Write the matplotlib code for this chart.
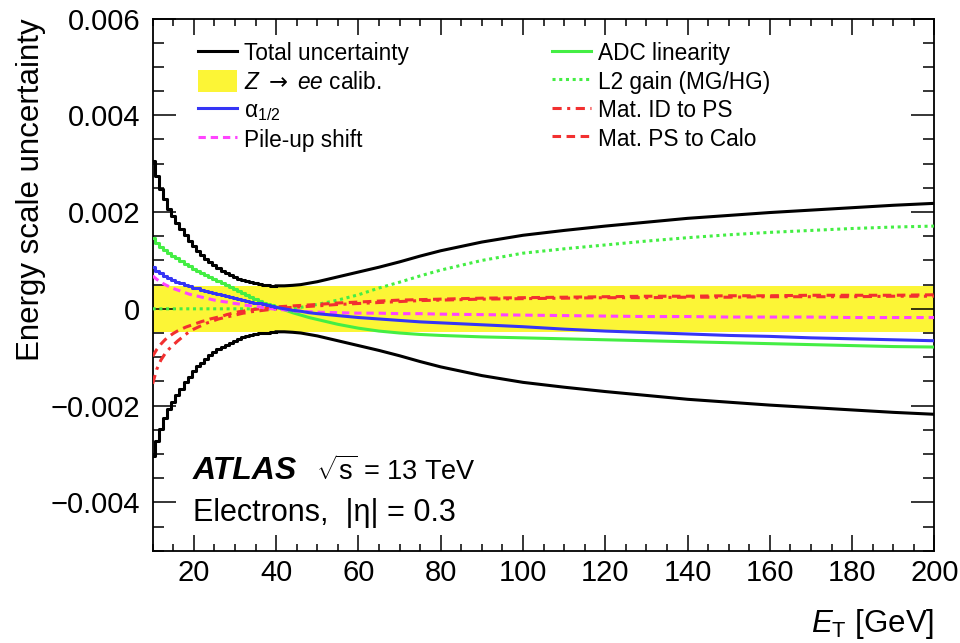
import matplotlib
matplotlib.use("Agg")
import matplotlib.pyplot as plt
from matplotlib.ticker import MultipleLocator, FuncFormatter
from matplotlib.patches import Patch
from matplotlib.lines import Line2D

plt.rcParams['font.family'] = ['Liberation Sans', 'DejaVu Sans']
plt.rcParams['mathtext.fontset'] = 'custom'
plt.rcParams['mathtext.rm'] = 'Liberation Sans'
plt.rcParams['mathtext.it'] = 'Liberation Sans:italic'
plt.rcParams['mathtext.bf'] = 'Liberation Sans:bold'
plt.rcParams['mathtext.sf'] = 'DejaVu Sans'

# ---------------- data (values in units of 1e-3) ----------------
et = [10, 11, 12, 13, 14, 15, 16, 17, 18, 19, 20, 21, 22, 23, 24, 25, 26, 27, 28, 29,
      30, 31, 32, 33, 34, 35, 36, 37, 38, 39, 40,
      42, 44, 46, 48, 50,
      55, 60, 65, 70, 75, 80,
      90, 100, 110, 120, 130, 140, 150, 160, 170, 180, 190, 200]

total_unc = [3.05, 2.74, 2.48, 2.26, 2.07, 1.92, 1.78, 1.65, 1.52, 1.40, 1.29, 1.19, 1.11, 1.03, 0.96,
             0.90, 0.84, 0.79, 0.74, 0.70, 0.66, 0.62, 0.59, 0.57, 0.55, 0.53, 0.51, 0.50, 0.49, 0.48, 0.475,
             0.475, 0.485, 0.50, 0.53, 0.56,
             0.66, 0.76, 0.86, 0.97, 1.09, 1.20,
             1.38, 1.52, 1.62, 1.71, 1.79, 1.87, 1.93, 1.99, 2.04, 2.09, 2.14, 2.18]

adc_lin = [1.46, 1.37, 1.28, 1.21, 1.15, 1.10, 1.04, 0.98, 0.93, 0.88, 0.83, 0.78, 0.73, 0.69, 0.65,
           0.61, 0.57, 0.53, 0.49, 0.45, 0.41, 0.37, 0.33, 0.29, 0.25, 0.21, 0.17, 0.13, 0.10, 0.07, 0.04,
           -0.02, -0.08, -0.13, -0.18, -0.22,
           -0.32, -0.40, -0.46, -0.50, -0.53, -0.55,
           -0.58, -0.60, -0.62, -0.64, -0.66, -0.68, -0.70, -0.72, -0.74, -0.76, -0.78, -0.79]

alpha12 = [0.86, 0.79, 0.73, 0.68, 0.63, 0.59, 0.56, 0.53, 0.50, 0.47, 0.44, 0.42, 0.39, 0.37, 0.35,
           0.33, 0.31, 0.29, 0.27, 0.25, 0.23, 0.21, 0.19, 0.17, 0.15, 0.13, 0.11, 0.09, 0.07, 0.05, 0.03,
           0.00, -0.03, -0.05, -0.08, -0.10,
           -0.14, -0.18, -0.21, -0.24, -0.27, -0.29,
           -0.33, -0.37, -0.42, -0.46, -0.49, -0.52, -0.55, -0.57, -0.60, -0.62, -0.64, -0.66]

pileup = [0.68, 0.61, 0.55, 0.50, 0.46, 0.42, 0.39, 0.36, 0.33, 0.30, 0.28, 0.26, 0.24, 0.22, 0.20,
          0.18, 0.17, 0.15, 0.14, 0.12, 0.11, 0.10, 0.08, 0.07, 0.06, 0.05, 0.04, 0.02, 0.01, 0.00, -0.01,
          -0.02, -0.04, -0.05, -0.06, -0.07,
          -0.08, -0.09, -0.09, -0.10, -0.10, -0.11,
          -0.12, -0.13, -0.14, -0.15, -0.16, -0.16, -0.17, -0.17, -0.17, -0.18, -0.18, -0.18]

l2_gain = [0.0, 0.0, 0.0, 0.0, 0.0, 0.0, 0.0, 0.0, 0.0, 0.0, 0.0, 0.0, 0.0, 0.0, 0.0,
           0.0, 0.0, 0.0, 0.0, 0.0, 0.0, 0.0, 0.0, 0.0, 0.0, 0.0, 0.0, 0.0, 0.0, 0.0, 0.0,
           0.0, 0.01, 0.03, 0.06, 0.09,
           0.18, 0.29, 0.43, 0.55, 0.68, 0.80,
           1.00, 1.15, 1.24, 1.32, 1.40, 1.47, 1.53, 1.58, 1.62, 1.66, 1.69, 1.71]

mat_id_ps = [-1.55, -1.25, -1.06, -0.93, -0.83, -0.75, -0.67, -0.60, -0.53, -0.47, -0.42, -0.38, -0.34, -0.30, -0.27,
             -0.24, -0.21, -0.19, -0.17, -0.15, -0.13, -0.11, -0.09, -0.08, -0.06, -0.05, -0.04, -0.03, -0.02, -0.01, 0.00,
             0.02, 0.03, 0.04, 0.05, 0.06,
             0.09, 0.11, 0.13, 0.15, 0.17, 0.18,
             0.20, 0.21, 0.22, 0.23, 0.23, 0.24, 0.24, 0.25, 0.25, 0.25, 0.26, 0.26]

mat_ps_calo = [-0.98, -0.84, -0.73, -0.64, -0.57, -0.51, -0.46, -0.42, -0.38, -0.35, -0.32, -0.29, -0.26, -0.24, -0.21,
               -0.19, -0.17, -0.15, -0.12, -0.10, -0.08, -0.06, -0.05, -0.03, -0.02, -0.01, 0.00, 0.01, 0.02, 0.03, 0.04,
               0.05, 0.06, 0.07, 0.08, 0.09,
               0.12, 0.14, 0.16, 0.18, 0.19, 0.20,
               0.22, 0.23, 0.24, 0.25, 0.26, 0.26, 0.27, 0.27, 0.28, 0.28, 0.28, 0.29]

zee_calib = 0.48  # half-width of the Z->ee band

yticks = [-0.004, -0.002, 0.0, 0.002, 0.004, 0.006]
xticks = [20, 40, 60, 80, 100, 120, 140, 160, 180, 200]

SCALE = 1e-3
N_FINE = 31

# ---------------- style ----------------
C_YELLOW = '#fcf536'
C_BLUE = '#3535f5'
C_GREEN = '#44ee44'
C_MAGENTA = '#ff44ff'
C_RED = '#f23030'
LW = 2.2

fig = plt.figure(figsize=(9.6, 6.43), dpi=100)
ax = fig.add_axes([0.159, 0.1435, 0.8144, 0.8277])

def sc(v):
    return [x * SCALE for x in v]

def hist_line(y, **kw):
    ys = sc(y)
    ax.plot(et[:N_FINE], ys[:N_FINE], drawstyle='steps-mid', **kw)
    ax.plot(et[N_FINE - 1:], ys[N_FINE - 1:], **kw)

ax.fill_between([et[0], et[-1]], [-zee_calib * SCALE] * 2, [zee_calib * SCALE] * 2,
                color=C_YELLOW, lw=0, zorder=1)

hist_line(adc_lin, color=C_GREEN, lw=LW, zorder=3)
ax.plot(et, sc(l2_gain), color=C_GREEN, lw=LW, linestyle=(0, (1.0, 1.2)), zorder=3)
ax.plot(et, sc(mat_id_ps), color=C_RED, lw=LW, linestyle=(0, (3.0, 1.8, 1.0, 1.8)), zorder=3)
ax.plot(et, sc(mat_ps_calo), color=C_RED, lw=LW, linestyle=(0, (2.8, 1.8)), zorder=3)
ax.plot(et, sc(pileup), color=C_MAGENTA, lw=LW, linestyle=(0, (2.4, 1.6)), zorder=3)
hist_line(alpha12, color=C_BLUE, lw=LW, zorder=4)
hist_line(total_unc, color='black', lw=LW, zorder=5)
hist_line([-v for v in total_unc], color='black', lw=LW, zorder=5)

ax.set_xlim(10, 200)
ax.set_ylim(-0.005, 0.006)
ax.set_xticks(xticks)
ax.set_yticks(yticks)
ax.xaxis.set_minor_locator(MultipleLocator(5))
ax.yaxis.set_minor_locator(MultipleLocator(0.0005))

def yfmt(v, pos):
    if abs(v) < 1e-12:
        return '0'
    s = f'{abs(v):.3f}'
    return ('\u2212' + s) if v < 0 else s

ax.yaxis.set_major_formatter(FuncFormatter(yfmt))
ax.tick_params(axis='both', which='both', direction='in', top=True, right=True, labelsize=21)
ax.tick_params(axis='y', which='major', length=16.5, width=1.1, pad=9)
ax.tick_params(axis='y', which='minor', length=8, width=1.1)
ax.tick_params(axis='x', which='major', length=11.5, width=1.1, pad=6)
ax.tick_params(axis='x', which='minor', length=5.3, width=1.1)
for s in ax.spines.values():
    s.set_linewidth(1.3)

ax.set_ylabel('Energy scale uncertainty', fontsize=22.5, loc='top')
ax.yaxis.set_label_coords(-0.136, 1.0)
ax.set_xlabel(r'$E_{\mathrm{T}}$ [GeV]', fontsize=22.5, loc='right')
ax.xaxis.set_label_coords(1.0, -0.105)

handles = [
    Line2D([], [], color='black', lw=LW),
    Patch(facecolor=C_YELLOW, edgecolor='none'),
    Line2D([], [], color=C_BLUE, lw=LW),
    Line2D([], [], color=C_MAGENTA, lw=LW, linestyle=(0, (2.4, 1.6))),
    Line2D([], [], color=C_GREEN, lw=LW),
    Line2D([], [], color=C_GREEN, lw=LW, linestyle=(0, (1.0, 1.2))),
    Line2D([], [], color=C_RED, lw=LW, linestyle=(0, (3.0, 1.8, 1.0, 1.8))),
    Line2D([], [], color=C_RED, lw=LW, linestyle=(0, (2.8, 1.8))),
]
labels = [
    'Total uncertainty',
    r'$Z$ $\mathsf{\rightarrow}$ $ee$ calib.',
    r'$\mathrm{\alpha}_{1/2}$',
    'Pile-up shift',
    'ADC linearity',
    'L2 gain (MG/HG)',
    'Mat. ID to PS',
    'Mat. PS to Calo',
]
ax.legend(handles, labels, ncol=2, frameon=False, fontsize=16.3,
          loc='upper left', bbox_to_anchor=(0.058, 0.957),
          borderpad=0, borderaxespad=0, handlelength=1.72, handleheight=1.1,
          handletextpad=0.33, labelspacing=0.22, columnspacing=6.3)

ax.text(0.0515, 0.150, 'ATLAS', transform=ax.transAxes, fontsize=23,
        fontweight='bold', fontstyle='italic', va='center', ha='left')
ax.text(0.2095, 0.150, r'$\sqrt{\mathrm{s}}$ = 13 TeV', transform=ax.transAxes,
        fontsize=19.5, va='center', ha='left')
ax.text(0.0515, 0.071, 'Electrons,  |\u03b7| = 0.3', transform=ax.transAxes,
        fontsize=22, va='center', ha='left')

fig.savefig('out.png', dpi=100)
